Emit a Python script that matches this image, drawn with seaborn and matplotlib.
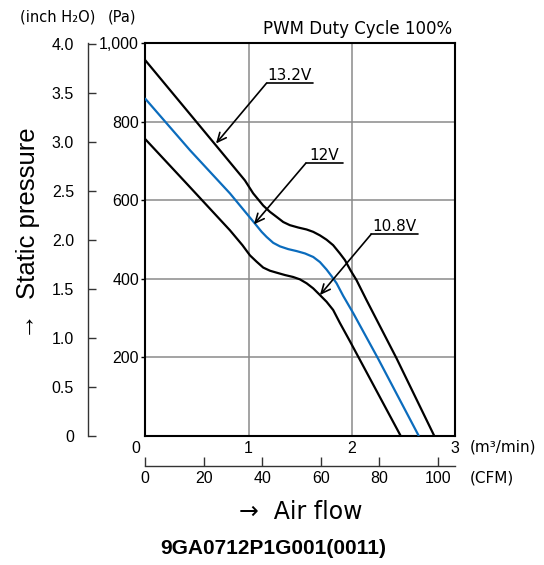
import matplotlib
matplotlib.use('Agg')
import matplotlib.pyplot as plt
import matplotlib.transforms as mtransforms
import seaborn as sns
import pandas as pd

# ---- data ----
flow_132 = [0, 0.722, 0.964, 1.044, 1.141, 1.206, 1.271, 1.335, 1.399, 1.480, 1.561, 1.625,
            1.690, 1.754, 1.818, 1.883, 1.932, 1.986, 2.044, 2.141, 2.431, 2.795]
pres_132 = [956, 727, 650, 617, 586, 570, 557, 544, 536, 530, 525, 519,
            510, 499, 485, 464, 447, 421, 396, 345, 197, 0]
flow_12 = [0, 0.432, 0.819, 1.061, 1.126, 1.174, 1.238, 1.303, 1.383, 1.464, 1.545, 1.625,
           1.690, 1.754, 1.803, 1.851, 1.915, 2.012, 2.253, 2.645]
pres_12 = [858, 727, 617, 540, 519, 506, 491, 482, 475, 470, 464, 455,
           442, 423, 406, 388, 356, 312, 196, 0]
flow_108 = [0, 0.400, 0.819, 0.940, 1.013, 1.077, 1.141, 1.206, 1.271, 1.351, 1.431, 1.496, 1.561,
            1.625, 1.690, 1.754, 1.818, 1.883, 1.979, 2.470]
pres_108 = [755, 642, 523, 485, 459, 443, 428, 420, 415, 409, 404, 398, 388,
            375, 358, 341, 320, 287, 241, 0]

voltages = ['13.2V', '12V', '10.8V']
x_ticks = [0, 1, 2, 3]
pa_ticks = [200, 400, 600, 800, 1000]
pa_labels = ['200', '400', '600', '800', '1,000']
inch_ticks = [0, 0.5, 1.0, 1.5, 2.0, 2.5, 3.0, 3.5, 4.0]
inch_labels = ['0', '0.5', '1.0', '1.5', '2.0', '2.5', '3.0', '3.5', '4.0']
cfm_ticks = [0, 20, 40, 60, 80, 100]

# annotation anchors: arrow tip, underline start, underline end
ann_tip = [(0.684, 744), (1.051, 538), (1.69, 358)]
ann_start = [(1.174, 898), (1.554, 694), (2.186, 513)]
ann_end = [(1.625, 898), (1.911, 694), (2.64, 513)]

sns.set_style('white')
plt.rcParams['font.family'] = ['DejaVu Sans']
plt.rcParams['text.color'] = 'black'
plt.rcParams['xtick.color'] = 'black'
plt.rcParams['ytick.color'] = 'black'
plt.rcParams['axes.labelcolor'] = 'black'

df = pd.concat([
    pd.DataFrame({'flow': flow_132, 'pressure': pres_132, 'voltage': '13.2V'}),
    pd.DataFrame({'flow': flow_12, 'pressure': pres_12, 'voltage': '12V'}),
    pd.DataFrame({'flow': flow_108, 'pressure': pres_108, 'voltage': '10.8V'}),
], ignore_index=True)

fig = plt.figure(figsize=(5.44, 5.65), dpi=100)
ax = fig.add_axes([145.3 / 544, 1 - 435.6 / 565, 310 / 544, 392.6 / 565])

palette = {'13.2V': 'black', '12V': '#0b6cbd', '10.8V': 'black'}
sns.lineplot(data=df, x='flow', y='pressure', hue='voltage', palette=palette,
             estimator=None, sort=False, lw=1.6, legend=False, ax=ax, zorder=3)
for ln in ax.get_lines():
    ln.set_solid_joinstyle('round')

ax.set_xlim(0, 3)
ax.set_ylim(0, 1000)
ax.set_xlabel('')
ax.set_ylabel('')
ax.set_xticks(x_ticks)
ax.set_xticklabels([str(t) for t in x_ticks])
ax.set_yticks(pa_ticks)
ax.set_yticklabels(pa_labels)
ax.grid(True, color='#8a8a8a', lw=1.1)
ax.set_axisbelow(True)
for s in ax.spines.values():
    s.set_color('black')
    s.set_linewidth(1.5)
ax.tick_params(axis='x', bottom=True, length=0, pad=4, labelsize=11.5,
               labelfontfamily='Liberation Sans', labelcolor='black')
ax.tick_params(axis='y', left=True, length=3, width=1, pad=1.5, direction='out',
               labelsize=11.5, labelfontfamily='Liberation Sans', labelcolor='black')
lab0 = ax.get_xticklabels()[0]
lab0.set_transform(lab0.get_transform() + mtransforms.ScaledTranslation(-0.09, 0, fig.dpi_scale_trans))

# inch H2O axis
sec = ax.secondary_yaxis(-0.1848, functions=(lambda p: p / 249.1, lambda i: i * 249.1))
sec.set_yticks(inch_ticks)
sec.set_yticklabels(inch_labels)
sec.tick_params(axis='y', left=True, direction='in', length=6, width=1, pad=10,
                labelsize=11.5, labelfontfamily='Liberation Sans', color='#333333',
                labelcolor='black')
sec.spines['left'].set_color('#333333')
sec.spines['left'].set_linewidth(1.0)

# CFM axis
cfm = ax.secondary_xaxis(-0.0774, functions=(lambda m: m * 35.31, lambda c: c / 35.31))
cfm.set_xticks(cfm_ticks)
cfm.set_xticklabels([str(t) for t in cfm_ticks])
cfm.tick_params(axis='x', bottom=True, direction='in', length=6.5, width=1, pad=3.5,
                labelsize=11.5, labelfontfamily='Liberation Sans', color='#333333',
                labelcolor='black')
cfm.spines['bottom'].set_color('#333333')
cfm.spines['bottom'].set_linewidth(1.0)

# voltage annotations
for lab, tip, st, en in zip(voltages, ann_tip, ann_start, ann_end):
    ax.plot([st[0], en[0]], [st[1], en[1]], color='black', lw=1.2, zorder=4)
    ax.annotate('', xy=tip, xytext=st,
                arrowprops=dict(arrowstyle='->,head_length=0.65,head_width=0.3',
                                color='black', lw=1.2, shrinkA=0, shrinkB=0,
                                mutation_scale=10), zorder=4)
    ax.annotate(lab, xy=((st[0] + en[0]) / 2, st[1]), xytext=(0, 2.5),
                textcoords='offset points', ha='center', va='baseline', fontsize=11,
                color='black')

# texts
fig.text(452 / 544, 1 - 29 / 565, 'PWM Duty Cycle 100%', ha='right', va='center', fontsize=12)
fig.text(20 / 544, 1 - 17 / 565, '(inch H\u2082O)', ha='left', va='center', fontsize=10.5)
fig.text(108 / 544, 1 - 17 / 565, '(Pa)', ha='left', va='center', fontsize=10.5)
fig.text(470 / 544, 1 - 447 / 565, '(m\u00b3/min)', ha='left', va='center', fontsize=11)
fig.text(470 / 544, 1 - 478 / 565, '(CFM)', ha='left', va='center', fontsize=11)
fig.text(28 / 544, 1 - 233 / 565, '\u2192  Static pressure', rotation=90, ha='center', va='center',
         fontsize=18.5, family=['Liberation Sans', 'DejaVu Sans'])
fig.text(301 / 544, 1 - 512 / 565, '\u2192  Air flow', ha='center', va='center', fontsize=17)
fig.text(273.5 / 544, 1 - 548 / 565, '9GA0712P1G001(0011)', ha='center', va='center',
         fontsize=15, weight='bold', family=['Liberation Sans', 'DejaVu Sans'])

fig.savefig('out.png', dpi=100)
